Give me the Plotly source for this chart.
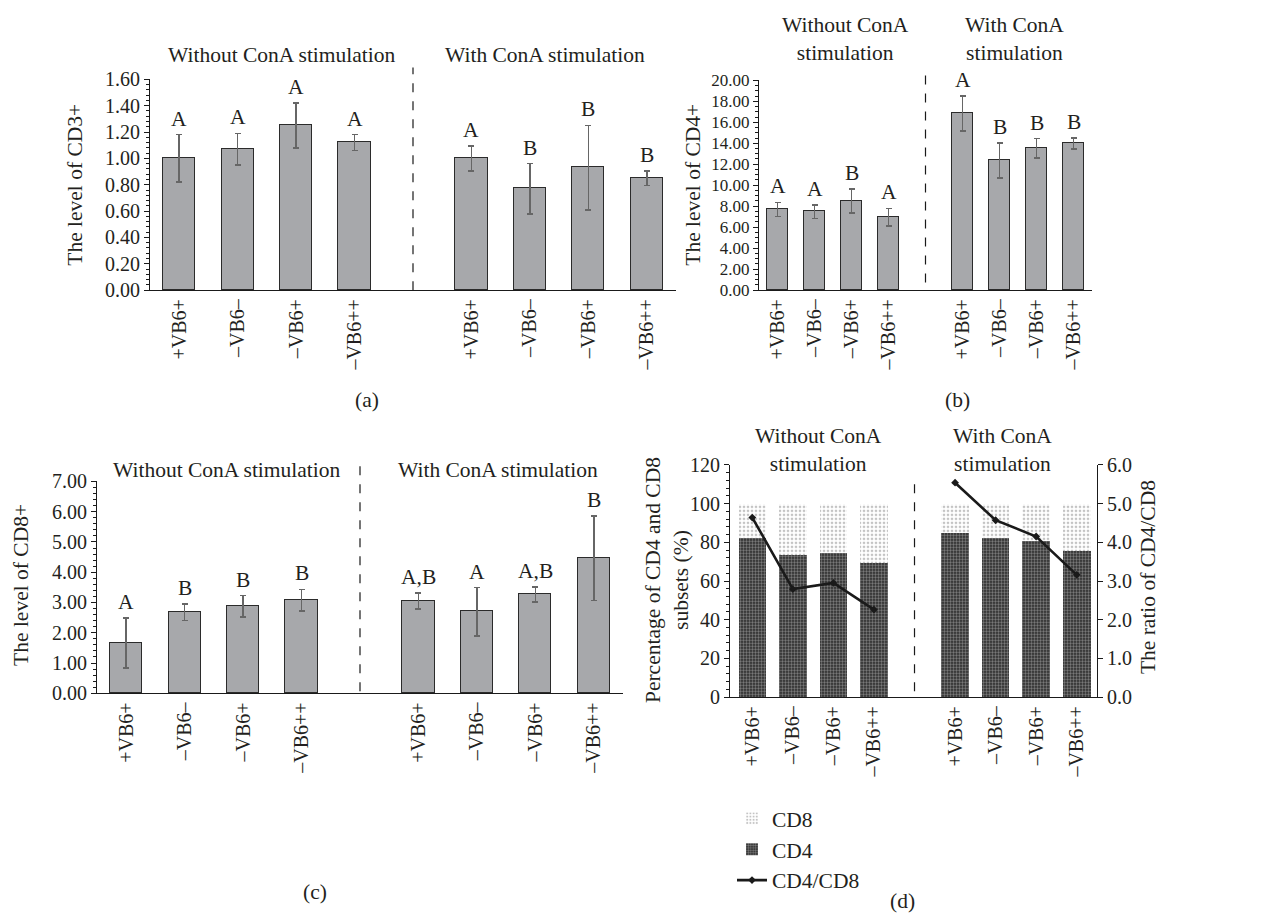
import plotly.graph_objects as go

# ---------------- data ----------------
categories = ["+VB6+", "–VB6–", "–VB6+", "–VB6++", "+VB6+", "–VB6–", "–VB6+", "–VB6++"]
positions = [0, 1, 2, 3, 5, 6, 7, 8]

cd3_vals = [1.00, 1.07, 1.25, 1.12, 1.00, 0.77, 0.93, 0.85]
cd3_err = [0.18, 0.12, 0.17, 0.06, 0.095, 0.19, 0.32, 0.055]
cd3_letters = ["A", "A", "A", "A", "A", "B", "B", "B"]

cd4_vals = [7.69, 7.47, 8.50, 6.95, 16.84, 12.34, 13.52, 13.98]
cd4_err = [0.68, 0.65, 1.15, 0.84, 1.68, 1.66, 0.93, 0.54]
cd4_letters = ["A", "A", "B", "A", "A", "B", "B", "B"]

cd8_vals = [1.66, 2.68, 2.88, 3.07, 3.05, 2.69, 3.26, 4.46]
cd8_err = [0.83, 0.28, 0.35, 0.36, 0.27, 0.80, 0.25, 1.40]
cd8_letters = ["A", "B", "B", "B", "A,B", "A", "A,B", "B"]

pct_cd4 = [82.5, 73.7, 74.6, 69.2, 84.7, 82.5, 80.5, 75.8]
pct_cd8 = [100 - v for v in pct_cd4]
ratio_cd4_cd8 = [4.64, 2.79, 2.95, 2.26, 5.54, 4.57, 4.15, 3.16]

FONT = "Liberation Serif"
TXT = "#231f20"
BAR_FILL = "#a7a8ab"
FS = 20
TS = 21.5

fig = go.Figure()

def bar_panel(xa, ya, vals, errs):
    fig.add_trace(go.Bar(
        x=positions, y=vals, width=0.55, xaxis=xa, yaxis=ya,
        marker=dict(color=BAR_FILL, line=dict(color="#2b2b2b", width=1.3)),
        error_y=dict(type="data", array=errs, color="#666666", thickness=1.6, width=3),
        showlegend=False, hoverinfo="skip"))

bar_panel("x", "y", cd3_vals, cd3_err)
bar_panel("x2", "y2", cd4_vals, cd4_err)
bar_panel("x3", "y3", cd8_vals, cd8_err)

# panel d
fig.add_trace(go.Bar(
    x=positions, y=pct_cd4, width=0.68, xaxis="x4", yaxis="y4", name="CD4", legendrank=2,
    marker=dict(color="#2a2a2a", line=dict(width=0),
                pattern=dict(shape=".", fgcolor="#cfcfcf", bgcolor="#262626", size=3, solidity=0.5))))
fig.add_trace(go.Bar(
    x=positions, y=pct_cd8, width=0.68, xaxis="x4", yaxis="y4", name="CD8", legendrank=1,
    marker=dict(color="white", line=dict(width=0),
                pattern=dict(shape=".", fgcolor="#8a8a8a", bgcolor="white", size=4, solidity=0.35))))
for i, (xs, ys) in enumerate([(positions[:4], ratio_cd4_cd8[:4]), (positions[4:], ratio_cd4_cd8[4:])]):
    fig.add_trace(go.Scatter(
        x=xs, y=ys, xaxis="x4", yaxis="y5", name="CD4/CD8", legendrank=3,
        legendgroup="ratio", showlegend=(i == 0),
        mode="lines+markers", line=dict(color="#1a1a1a", width=2.6),
        marker=dict(symbol="diamond", size=6, color="#1a1a1a")))

W, H = 1283, 919
def dx(a, b): return [a / W, b / W]
def dy(top, bottom): return [1 - bottom / H, 1 - top / H]

xcommon = dict(tickmode="array", tickvals=positions, ticktext=categories, tickangle=-90,
               showline=True, linecolor="#1a1a1a", linewidth=1.2, ticks="", showgrid=False,
               zeroline=False, range=[-0.5, 8.5],
               tickfont=dict(family=FONT, size=FS, color=TXT))
def ycommon(fs=FS):
    return dict(showline=True, linecolor="#1a1a1a", linewidth=1.2, ticks="outside", ticklen=5,
                tickcolor="#1a1a1a", showgrid=False, zeroline=False,
                tickfont=dict(family=FONT, size=fs, color=TXT))

fig.update_layout(
    width=W, height=H, margin=dict(l=0, r=0, t=0, b=0),
    paper_bgcolor="white", plot_bgcolor="white", barmode="stack", bargap=0,
    font=dict(family=FONT, size=FS, color=TXT),
    xaxis=dict(domain=dx(150, 676), anchor="y", **xcommon),
    yaxis=dict(domain=dy(70, 286), anchor="x", range=[0, 1.6], dtick=0.2, tickformat=".2f",
               minor=dict(dtick=0.04, ticks="outside", ticklen=3, tickcolor="#1a1a1a"), **ycommon()),
    xaxis2=dict(domain=dx(759, 1092), anchor="y2", **xcommon),
    yaxis2=dict(domain=dy(71, 286), anchor="x2", range=[0, 20], dtick=2, tickformat=".2f",
                minor=dict(dtick=0.5, ticks="outside", ticklen=3, tickcolor="#1a1a1a"), **ycommon(17)),
    xaxis3=dict(domain=dx(97, 623), anchor="y3", **xcommon),
    yaxis3=dict(domain=dy(482, 699), anchor="x3", range=[0, 7], dtick=1, tickformat=".2f",
                minor=dict(dtick=0.2, ticks="outside", ticklen=3, tickcolor="#1a1a1a"), **ycommon()),
    xaxis4=dict(domain=dx(730, 1097), anchor="y4", **{**xcommon, "range": [-0.55, 8.5]}),
    yaxis4=dict(domain=dy(465, 703), anchor="x4", range=[0, 120], dtick=20,
                minor=dict(dtick=4, ticks="outside", ticklen=3, tickcolor="#1a1a1a"), **ycommon()),
    yaxis5=dict(domain=dy(465, 703), anchor="x4", overlaying="y4", side="right",
                range=[0, 6], dtick=1, tickformat=".1f", **ycommon()),
    legend=dict(x=732 / W, y=1 - 806 / H, xanchor="left", yanchor="top",
                font=dict(family=FONT, size=TS, color=TXT), bgcolor="rgba(0,0,0,0)",
                traceorder="normal", tracegroupgap=0, itemwidth=30),
)

# dashed dividers
for xr, y0, y1 in [("x", 0, 1.056), ("x2", 0.037, 1.06), ("x3", 0.01, 1.09), ("x4", 0.025, 0.95)]:
    yr = xr.replace("x", "y") + " domain"
    fig.add_shape(type="line", xref=xr, yref=yr, x0=4, x1=4, y0=y0, y1=y1,
                  line=dict(color="#1a1a1a", width=1.2, dash="dash"))

anns = []
def letters(xa, ya, vals, errs, labs):
    for p, v, e, t in zip(positions, vals, errs, labs):
        anns.append(dict(x=p, y=v + e, xref=xa, yref=ya, text=t, showarrow=False,
                         yanchor="bottom", yshift=2, font=dict(family=FONT, size=TS, color=TXT)))

letters("x", "y", cd3_vals, cd3_err, cd3_letters)
letters("x2", "y2", cd4_vals, cd4_err, cd4_letters)
letters("x3", "y3", cd8_vals, cd8_err, cd8_letters)

def ptext(x, y, text, angle=0, size=TS):
    anns.append(dict(x=x / W, y=1 - y / H, xref="paper", yref="paper", text=text, showarrow=False,
                     textangle=angle, xanchor="center", yanchor="middle",
                     font=dict(family=FONT, size=size, color=TXT)))

# group titles
ptext(282, 45, "Without ConA stimulation")
ptext(545, 45, "With ConA stimulation")
ptext(845, 29, "Without ConA<br>stimulation")
ptext(1014, 29, "With ConA<br>stimulation")
ptext(227, 470, "Without ConA stimulation")
ptext(498, 470, "With ConA stimulation")
ptext(818, 450, "Without ConA<br>stimulation")
ptext(1002, 450, "With ConA<br>stimulation")

# axis titles
ptext(75, 178, "The level of CD3+", -90)
ptext(693, 178, "The level of CD4+", -90)
ptext(21, 588, "The level of CD8+", -90)
ptext(667, 583, "Percentage of CD4 and CD8<br>subsets (%)", -90)
ptext(1148, 580, "The ratio of CD4/CD8", -90)

# captions
ptext(367, 399, "(a)")
ptext(957, 399, "(b)")
ptext(315, 903, "(c)")
ptext(902, 912, "(d)")

fig.update_layout(annotations=anns)
fig.write_html("out.html", config={"displayModeBar": False},
               post_script="document.body.style.margin='0';document.body.style.overflow='hidden';")
